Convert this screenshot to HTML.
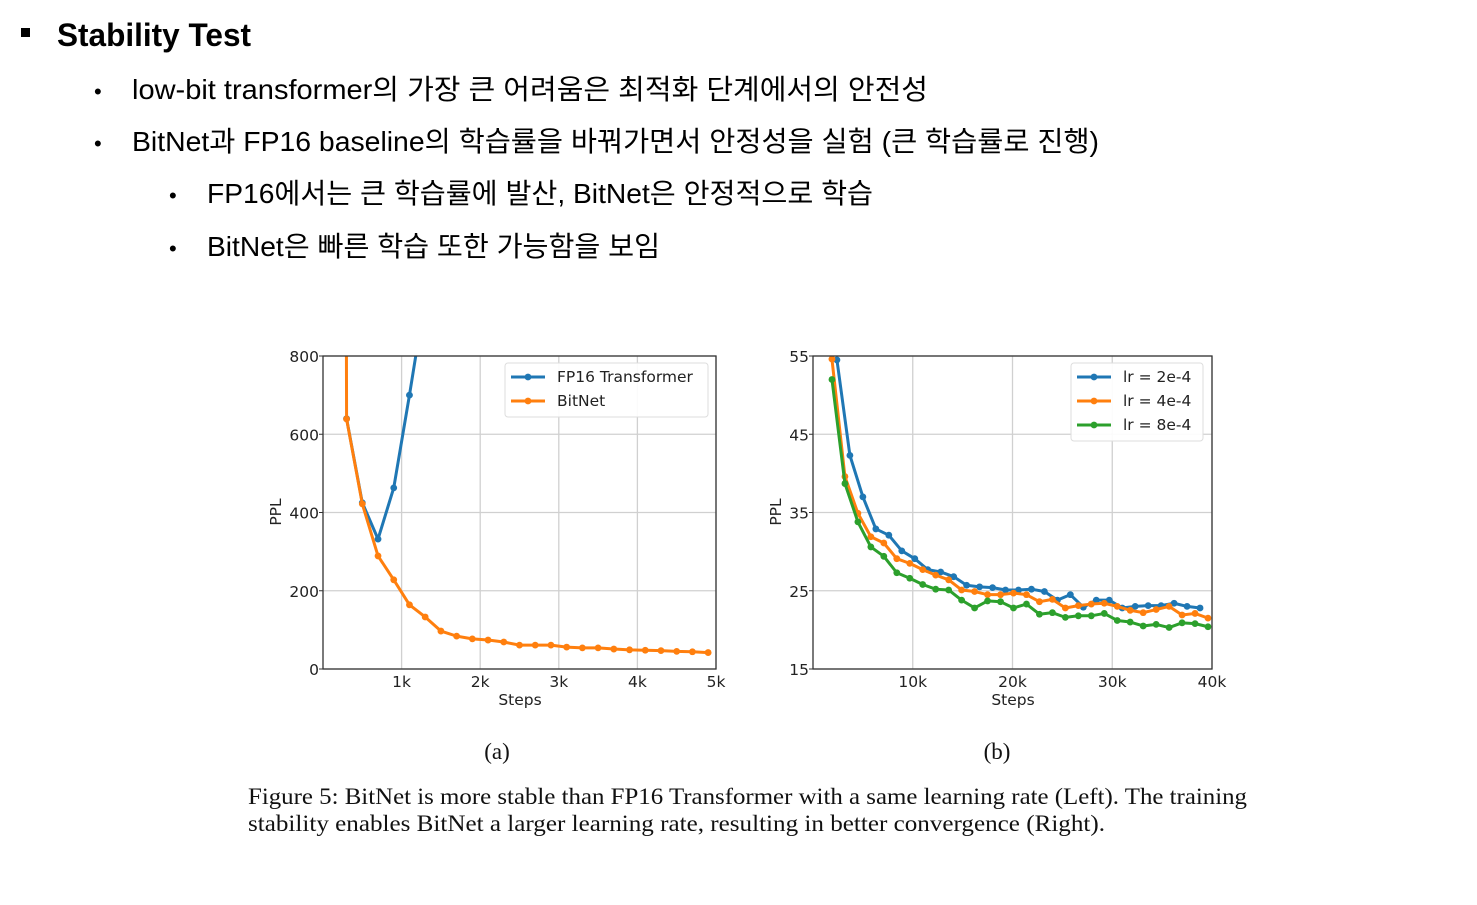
<!DOCTYPE html>
<html><head><meta charset="utf-8">
<style>
html,body{margin:0;padding:0;background:#fff;}
svg{display:block;}
.kr{font-family:"Liberation Sans","Noto Sans CJK KR",sans-serif;fill:#000;}
.tk{font-family:"DejaVu Sans","Liberation Sans",sans-serif;font-size:15.5px;fill:#222;}
.cap{font-family:"Liberation Serif",serif;font-size:23px;fill:#111;}
</style></head>
<body>
<svg id="root" width="1477" height="905" viewBox="0 0 1477 905" xmlns="http://www.w3.org/2000/svg">
  <rect x="21" y="28" width="9" height="9" fill="#000"/>
  <text class="kr" x="57" y="46" font-size="32" font-weight="bold" textLength="194" lengthAdjust="spacingAndGlyphs">Stability Test</text>
  <text class="kr" x="94" y="99" font-size="22">•</text>
  <text class="kr" x="132" y="99" font-size="28" textLength="796" lengthAdjust="spacingAndGlyphs">low-bit transformer의 가장 큰 어려움은 최적화 단계에서의 안전성</text>
  <text class="kr" x="94" y="151" font-size="22">•</text>
  <text class="kr" x="132" y="151" font-size="28" textLength="967" lengthAdjust="spacingAndGlyphs">BitNet과 FP16 baseline의 학습률을 바꿔가면서 안정성을 실험 (큰 학습률로 진행)</text>
  <text class="kr" x="169" y="203" font-size="22">•</text>
  <text class="kr" x="207" y="203" font-size="28" textLength="666" lengthAdjust="spacingAndGlyphs">FP16에서는 큰 학습률에 발산, BitNet은 안정적으로 학습</text>
  <text class="kr" x="169" y="256" font-size="22">•</text>
  <text class="kr" x="207" y="256" font-size="28" textLength="453" lengthAdjust="spacingAndGlyphs">BitNet은 빠른 학습 또한 가능함을 보임</text>

  <g id="chartA"></g>
  <g id="chartB"></g>

  <text class="cap" x="497" y="759" text-anchor="middle" font-size="21">(a)</text>
  <text class="cap" x="997" y="759" text-anchor="middle" font-size="21">(b)</text>
  <text class="cap" x="248" y="804" textLength="999" lengthAdjust="spacingAndGlyphs">Figure 5: BitNet is more stable than FP16 Transformer with a same learning rate (Left). The training</text>
  <text class="cap" x="248" y="831" textLength="857" lengthAdjust="spacingAndGlyphs">stability enables BitNet a larger learning rate, resulting in better convergence (Right).</text>
</svg>
<script>
// ---- Chart A data ----
const stepsA = [0.3,0.5,0.7,0.9,1.1,1.3,1.5,1.7,1.9,2.1,2.3,2.5,2.7,2.9,3.1,3.3,3.5,3.7,3.9,4.1,4.3,4.5,4.7,4.9];
const bitnetA = [639,422,289,228,164,133,97,84,77,74,69,61,61,61,56,54,54,51,49,48,47,45,44,42];
const fp16StepsA = [0.3,0.5,0.7,0.9,1.1,1.3];
const fp16A = [640,425,332,463,700,950];
const yTicksA = [0,200,400,600,800];
const xTicksA = [1,2,3,4,5];
const xTickLabelsA = ['1k','2k','3k','4k','5k'];
// ---- Chart B data ----
const stepsB2 = [2.4,3.7,5.0,6.3,7.6,8.9,10.2,11.5,12.8,14.1,15.4,16.7,18.0,19.3,20.6,21.9,23.2,24.5,25.8,27.1,28.4,29.7,31.0,32.3,33.6,34.9,36.2,37.5,38.8];
const lr2e4 = [54.5,42.3,37.0,32.9,32.1,30.1,29.1,27.7,27.4,26.8,25.7,25.5,25.4,25.1,25.1,25.2,24.9,23.8,24.5,22.9,23.8,23.8,22.8,23.0,23.1,23.1,23.4,23.0,22.8];
const stepsB = [1.9,3.2,4.5,5.8,7.1,8.4,9.7,11.0,12.3,13.6,14.9,16.2,17.5,18.8,20.1,21.4,22.7,24.0,25.3,26.6,27.9,29.2,30.5,31.8,33.1,34.4,35.7,37.0,38.3,39.6];
const lr4e4 = [54.6,39.6,34.9,31.9,31.1,29.1,28.5,27.7,27.0,26.4,25.1,24.9,24.5,24.5,24.7,24.5,23.6,23.9,22.8,23.1,23.3,23.4,23.0,22.5,22.2,22.6,23.0,21.9,22.1,21.5];
const lr8e4 = [52.0,38.7,33.8,30.6,29.4,27.3,26.6,25.8,25.2,25.1,23.8,22.8,23.7,23.6,22.8,23.3,22.0,22.2,21.6,21.8,21.8,22.1,21.2,21.0,20.5,20.7,20.3,20.9,20.8,20.4];
const yTicksB = [15,25,35,45,55];
const xTicksB = [10,20,30,40];
const xTickLabelsB = ['10k','20k','30k','40k'];

const NS='http://www.w3.org/2000/svg';
function mk(parent,tag,attrs,text){const e=document.createElementNS(NS,tag);for(const k in attrs)e.setAttribute(k,attrs[k]);if(text!==undefined)e.textContent=text;parent.appendChild(e);return e;}

function drawChart(g, box, xmin, xmax, ymin, ymax, xTicks, xLabels, yTicks, series, legend, clipId){
  const sx=v=>box.x0+(v-xmin)/(xmax-xmin)*(box.x1-box.x0);
  const sy=v=>box.y1-(v-ymin)/(ymax-ymin)*(box.y1-box.y0);
  xTicks.forEach((t,i)=>{
    const l=mk(g,'line',{x1:sx(t),x2:sx(t),y1:box.y0,y2:box.y1,stroke:'#d0d0d0','stroke-width':1.3});
    
    
    const tl=mk(g,'text',{x:sx(t),y:box.y1+18,'text-anchor':'middle',class:'tk'},xLabels[i]);
    
    
  });
  yTicks.forEach(t=>{
    const l=mk(g,'line',{x1:box.x0,x2:box.x1,y1:sy(t),y2:sy(t),stroke:'#d0d0d0','stroke-width':1.3});
    
    
    mk(g,'line',{x1:box.x0-4,x2:box.x0,y1:sy(t),y2:sy(t),stroke:'#333'});
    const tl=mk(g,'text',{x:box.x0-4,y:sy(t)+6,'text-anchor':'end',class:'tk'},String(t));
    
    
  });
  const defs=mk(g,'defs',{});
  const cp=mk(defs,'clipPath',{id:clipId});
  mk(cp,'rect',{x:box.x0,y:box.y0,width:box.x1-box.x0,height:box.y1-box.y0});
  const sg=mk(g,'g',{'clip-path':'url(#'+clipId+')'});
  series.forEach(s=>{
    const pts=s.x.map((v,i)=>sx(v)+','+sy(s.y[i])).join(' ');
    const pl=mk(sg,'polyline',{points:pts,fill:'none',stroke:s.color,'stroke-width':3,'stroke-linejoin':'round'});
    
    
    s.x.forEach((v,i)=>{
      const c=mk(sg,'circle',{cx:sx(v),cy:sy(s.y[i]),r:3.4,fill:s.color});
      
      
    });
  });
  const fr=mk(g,'rect',{x:box.x0,y:box.y0,width:box.x1-box.x0,height:box.y1-box.y0,fill:'none',stroke:'#333','stroke-width':1.3});
  
  
  const lg=mk(g,'g',{});
  
  
  mk(lg,'rect',{x:legend.x,y:legend.y,width:legend.w,height:legend.h,rx:3,fill:'#fff','fill-opacity':0.9,stroke:'#ddd'});
  series.forEach((s,i)=>{
    const yy=legend.y+14+i*24;
    mk(lg,'line',{x1:legend.x+6,x2:legend.x+40,y1:yy,y2:yy,stroke:s.color,'stroke-width':3});
    mk(lg,'circle',{cx:legend.x+23,cy:yy,r:3.4,fill:s.color});
    const t=mk(lg,'text',{x:legend.x+52,y:yy+5,class:'tk'},s.label);
    
    
  });
}

const gA=document.getElementById('chartA');
drawChart(gA,{x0:323,x1:716,y0:356,y1:669},0,5,0,800,xTicksA,xTickLabelsA,yTicksA,[
  {name:'fp16',label:'FP16 Transformer',color:'#1f77b4',x:fp16StepsA,y:fp16A},
  {name:'bitnet',label:'BitNet',color:'#ff7f0e',x:[0.29].concat(stepsA),y:[1500].concat(bitnetA)}
],{x:505,y:363,w:203,h:54},'clipA');
mk(gA,'text',{x:520,y:705,'text-anchor':'middle',class:'tk'},'Steps');
mk(gA,'text',{x:281,y:512,'text-anchor':'middle',class:'tk',transform:'rotate(-90 281 512)'},'PPL');

const gB=document.getElementById('chartB');
drawChart(gB,{x0:813,x1:1212,y0:356,y1:669},0,40,15,55,xTicksB,xTickLabelsB,yTicksB,[
  {name:'lr-2e-4',label:'lr = 2e-4',color:'#1f77b4',x:stepsB2,y:lr2e4},
  {name:'lr-4e-4',label:'lr = 4e-4',color:'#ff7f0e',x:stepsB,y:lr4e4},
  {name:'lr-8e-4',label:'lr = 8e-4',color:'#2ca02c',x:stepsB,y:lr8e4}
],{x:1071,y:363,w:132,h:78},'clipB');
mk(gB,'text',{x:1013,y:705,'text-anchor':'middle',class:'tk'},'Steps');
mk(gB,'text',{x:781,y:512,'text-anchor':'middle',class:'tk',transform:'rotate(-90 781 512)'},'PPL');
</script>
</body></html>
